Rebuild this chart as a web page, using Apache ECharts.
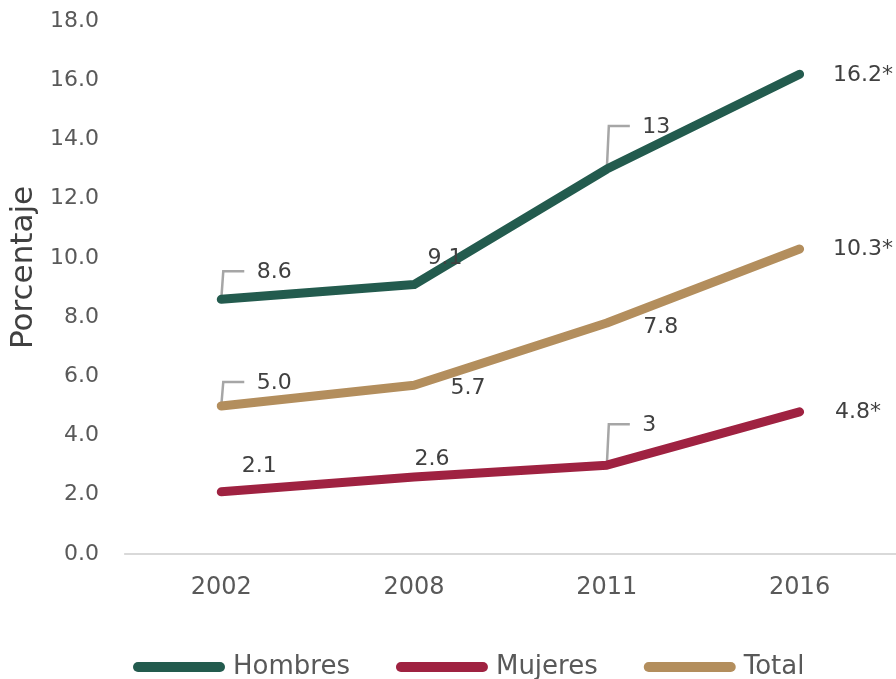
<!DOCTYPE html>
<html><head><meta charset="utf-8">
<script src="https://cdn.jsdelivr.net/npm/echarts@6/dist/echarts.min.js"></script>
<style>html,body{margin:0;padding:0;background:#fff}#c{width:896px;height:679px}</style>
</head><body><div id="c"></div>
<script>
const categories = ['2002', '2008', '2011', '2016'];
const hombres = [8.6, 9.1, 13, 16.2];
const mujeres = [2.1, 2.6, 3, 4.8];
const total = [5.0, 5.7, 7.8, 10.3];
const hombresLabels = ['8.6', '9.1', '13', '16.2*'];
const mujeresLabels = ['2.1', '2.6', '3', '4.8*'];
const totalLabels = ['5.0', '5.7', '7.8', '10.3*'];
const yTicks = [0, 2, 4, 6, 8, 10, 12, 14, 16, 18];

// label placement (style, pixel offsets from point)
const hOff = [[35, -27], [13, -26], [35, -42], [33, 1]];
const tOff = [[35, -23], [36, 3], [36, 4], [33, 0]];
const mOff = [[20, -26], [0, -18], [35, -40], [35, 0]];
// which labels get a leader line: [seriesValues, index, offsets]
const leaders = [[hombres, 0, hOff], [hombres, 2, hOff], [total, 0, tOff], [mujeres, 2, mOff]];

const FONT = 'DejaVu Sans';
const colors = {H: '#235b4e', M: '#9f2241', T: '#b38e5d'};

function mkSeries(name, vals, labs, offs, color) {
  return {
    name, type: 'line', data: vals.map((v, i) => ({
      value: v,
      label: {offset: offs[i], formatter: labs[i]}
    })),
    symbol: 'circle', symbolSize: 1, showSymbol: true,
    itemStyle: {color},
    lineStyle: {color, width: 9, cap: 'round', join: 'round'},
    label: {show: true, position: 'right', distance: 0, color: '#404040',
      fontFamily: FONT, fontSize: 22, align: 'left', verticalAlign: 'middle'},
    emphasis: {disabled: true}, animation: false, z: 3
  };
}

const leaderData = leaders.map(([vals, i, offs]) => [i, vals[i], offs[i][1]]);

const capsule = 'path://M5,0 H87 A5,5 0 0 1 87,10 H5 A5,5 0 0 1 5,0 Z';
const chart = echarts.init(document.getElementById('c'));
chart.setOption({
  animation: false,
  textStyle: {fontFamily: FONT},
  grid: {left: 118, right: 0, top: 21, bottom: 125, containLabel: false},
  xAxis: {
    type: 'category', data: categories, boundaryGap: true,
    axisLine: {lineStyle: {color: '#d9d9d9', width: 2}},
    axisTick: {show: false},
    axisLabel: {color: '#595959', fontSize: 24, margin: 22, fontFamily: FONT}
  },
  yAxis: {
    type: 'value', min: 0, max: 18, interval: 2,
    name: 'Porcentaje', nameLocation: 'middle', nameGap: 77,
    nameTextStyle: {color: '#404040', fontSize: 31, fontFamily: FONT, padding: [0, 0, 0, 40]},
    axisLine: {show: false}, axisTick: {show: false}, splitLine: {show: false},
    axisLabel: {color: '#595959', fontSize: 22, margin: 26, fontFamily: FONT,
      formatter: v => yTicks.includes(v) ? v.toFixed(1) : ''}
  },
  legend: {
    left: 128, top: 649, itemWidth: 92, itemHeight: 10, itemGap: 46,
    textStyle: {color: '#595959', fontSize: 26, fontFamily: FONT, padding: [0, 0, 0, 3]},
    data: [
      {name: 'Hombres', icon: capsule},
      {name: 'Mujeres', icon: capsule},
      {name: 'Total', icon: capsule}
    ]
  },
  series: [
    mkSeries('Hombres', hombres, hombresLabels, hOff, colors.H),
    mkSeries('Mujeres', mujeres, mujeresLabels, mOff, colors.M),
    mkSeries('Total', total, totalLabels, tOff, colors.T),
    {
      type: 'custom', name: 'leaders', data: leaderData, z: 2, silent: true,
      renderItem: (params, api) => {
        const p = api.coord([api.value(0), api.value(1)]);
        const dy = api.value(2);
        return {type: 'polyline', shape: {points: [[p[0], p[1]], [p[0] + 2, p[1] + dy - 1], [p[0] + 23, p[1] + dy - 1]]},
          style: {stroke: '#a6a6a6', lineWidth: 2.5, fill: null}};
      }
    }
  ]
});
</script></body></html>
